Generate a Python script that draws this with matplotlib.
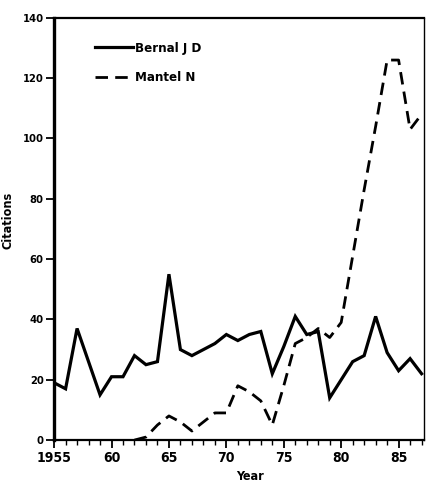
import matplotlib
matplotlib.use('Agg')
import matplotlib.pyplot as plt
from matplotlib.ticker import MultipleLocator, FixedLocator

# Datos
years_bernal = list(range(1955, 1988))
bernal = [19, 17, 37, 26, 15, 21, 21, 28, 25, 26, 55, 30, 28, 30, 32, 35, 33,
          35, 36, 22, 31, 41, 35, 36, 14, 20, 26, 28, 41, 29, 23, 27, 22]

years_mantel = list(range(1962, 1988))
mantel = [0, 1, 5, 8, 6, 3, 6, 9, 9, 18, 16, 13, 5, 18, 32, 34, 37, 34, 39,
          61, 83, 104, 126, 126, 103, 108]

x_ticks = [1955, 1960, 1965, 1970, 1975, 1980, 1985]
x_labels = ['1955', '60', '65', '70', '75', '80', '85']
y_ticks = [0, 20, 40, 60, 80, 100, 120, 140]

plt.rcParams['font.family'] = ['DejaVu Sans']
plt.rcParams['font.stretch'] = 'condensed'
plt.rcParams['font.weight'] = 'bold'

fig = plt.figure(figsize=(4.26, 4.82), dpi=100)
ax = fig.add_axes([0.127, 0.087, 0.868, 0.876])

ax.plot(years_bernal, bernal, color='black', lw=2.3, solid_joinstyle='miter',
        label='Bernal J D')
ax.plot(years_mantel, mantel, color='black', lw=2.0, dashes=(4.5, 2.6),
        label='Mantel N')

ax.set_xlim(1955, 1987.2)
ax.set_ylim(0, 140)

ax.xaxis.set_major_locator(FixedLocator(x_ticks))
ax.set_xticklabels(x_labels)
ax.get_xticklabels()[0].set_x(1954.3)
ax.xaxis.set_minor_locator(MultipleLocator(1))
ax.set_yticks(y_ticks)

ax.tick_params(axis='x', which='major', direction='out', length=6, width=1.3,
               labelsize=10, pad=2)
ax.tick_params(axis='x', which='minor', direction='out', length=3.5, width=1.0)
ax.tick_params(axis='y', which='major', direction='out', length=6, width=1.3,
               labelsize=8, pad=1.5)

ax.spines['left'].set_linewidth(2.4)
ax.spines['bottom'].set_linewidth(1.6)
ax.spines['top'].set_linewidth(1.6)
ax.spines['right'].set_linewidth(1.0)

ax.set_ylabel('Citations', fontsize=9, fontweight='bold')
ax.yaxis.set_label_coords(-0.108, 0.52)
ax.set_xlabel('Year', fontsize=9, fontweight='bold')
ax.xaxis.set_label_coords(0.53, -0.072)

ax.legend(loc='upper left', bbox_to_anchor=(0.111, 0.943), frameon=False,
          fontsize=9.5, handlelength=2.9, handletextpad=0.15,
          labelspacing=1.25, borderpad=0, borderaxespad=0)

fig.savefig('out.png', dpi=100)
